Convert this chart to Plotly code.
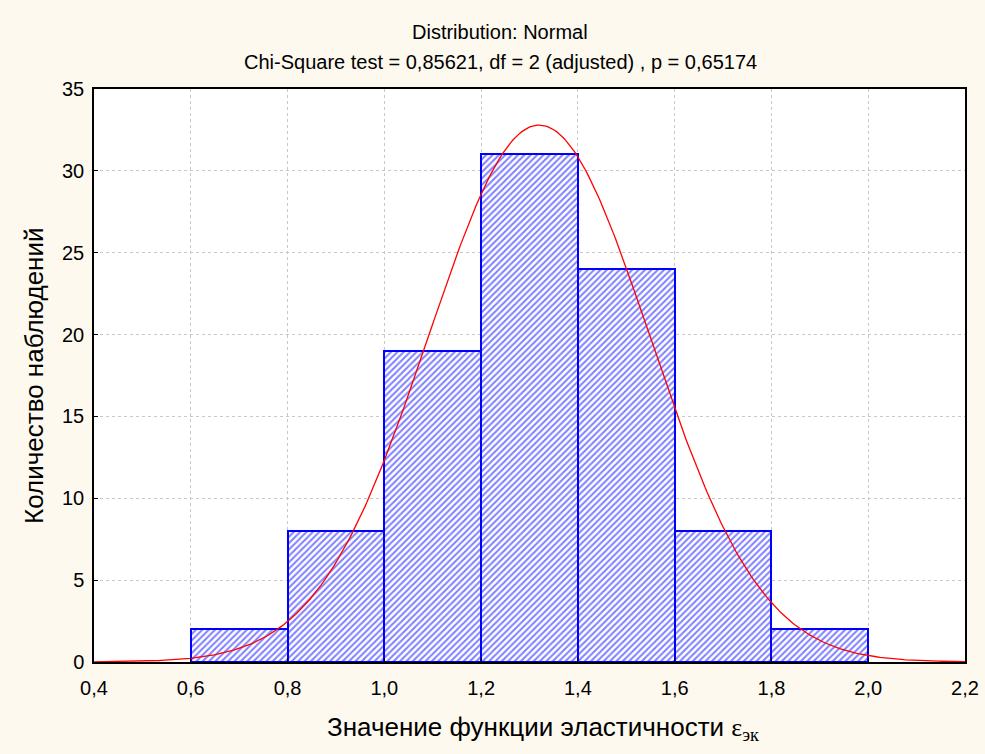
import numpy as np
import plotly.graph_objects as go

bin_left = [0.6, 0.8, 1.0, 1.2, 1.4, 1.6, 1.8]
counts = [2, 8, 19, 31, 24, 8, 2]
bin_width = 0.2
fit_mean = 1.32
fit_sd = 0.2287
x_ticks = [0.4, 0.6, 0.8, 1.0, 1.2, 1.4, 1.6, 1.8, 2.0, 2.2]
y_ticks = [0, 5, 10, 15, 20, 25, 30, 35]

title1 = "Distribution: Normal"
title2 = "Chi-Square test = 0,85621, df = 2 (adjusted) , p = 0,65174"
xlabel = ("Значение функции эластичности "
          "<span style='font-family:Liberation Serif, Times New Roman, serif'>ε<sub>эк</sub></span>")
ylabel = "Количество наблюдений"

centers = [b + bin_width / 2 for b in bin_left]
n_total = sum(counts)
xs = np.linspace(0.4, 2.2, 400)
ys = n_total * bin_width / (fit_sd * np.sqrt(2 * np.pi)) * np.exp(-0.5 * ((xs - fit_mean) / fit_sd) ** 2)

W, H = 985, 754
ML, MR, MT, MB = 94, 20, 89, 92
plot_h = H - MT - MB
plot_w = W - ML - MR

def py(pix):
    return (H - MB - pix) / plot_h

def px(pix):
    return (pix - ML) / plot_w

fig = go.Figure()
fig.add_trace(go.Bar(
    x=centers, y=counts, width=[bin_width] * len(counts),
    marker=dict(color="white", line=dict(color="#0000ff", width=2),
                pattern=dict(shape="/", fgcolor="#0000ff", bgcolor="white", size=4.5, solidity=0.45)),
    showlegend=False,
))
fig.add_trace(go.Scatter(x=xs, y=ys, mode="lines", line=dict(color="#ff0000", width=1.3), showlegend=False))

font = "Liberation Sans, Arial, sans-serif"
axis_common = dict(showgrid=True, gridcolor="#c8c8c8", griddash="dot", gridwidth=1,
                   showline=True, linecolor="black", linewidth=1.5, mirror=True,
                   ticks="inside", ticklen=4, tickcolor="black", zeroline=False,
                   automargin=False, tickfont=dict(size=20))
fig.update_layout(
    width=W, height=H,
    paper_bgcolor="#fdf9ee", plot_bgcolor="white",
    margin=dict(l=ML, r=MR, t=MT, b=MB),
    separators=", ",
    font=dict(family=font, color="black", size=17),
    bargap=0,
    xaxis=dict(range=[0.4, 2.2], tickvals=x_ticks, tickformat=".1f", ticklabelstandoff=7, **axis_common),
    yaxis=dict(range=[0, 35], tickvals=y_ticks, ticklabelstandoff=4, **axis_common),
    annotations=[
        dict(text=title1, x=px(500), y=py(32), xref="paper", yref="paper", showarrow=False,
             yanchor="middle", font=dict(size=20)),
        dict(text=title2, x=px(500), y=py(62), xref="paper", yref="paper", showarrow=False,
             yanchor="middle", font=dict(size=20)),
        dict(text=xlabel, x=px(543), y=py(728), xref="paper", yref="paper", showarrow=False,
             yanchor="middle", font=dict(size=26)),
        dict(text=ylabel, x=px(34), y=py(376), xref="paper", yref="paper", showarrow=False,
             xanchor="center", yanchor="middle", textangle=-90, font=dict(size=26)),
    ],
)
fig.write_html("out.html", config={"displayModeBar": False})

with open("out.html", "r", encoding="utf-8") as f:
    html = f.read()
html = html.replace("<body>", "<body style=\"margin:0;padding:0;\">", 1)
with open("out.html", "w", encoding="utf-8") as f:
    f.write(html)
